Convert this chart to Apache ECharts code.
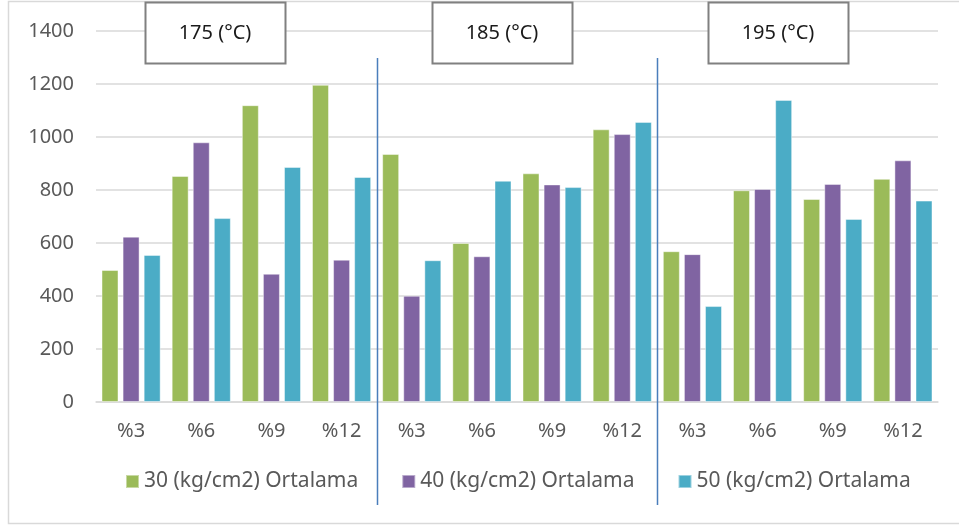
<!DOCTYPE html>
<html>
<head>
<meta charset="utf-8">
<script src="https://cdn.jsdelivr.net/npm/echarts@6/dist/echarts.min.js"></script>
<style>html,body{margin:0;padding:0;background:#fff;}#c{width:959px;height:526px;}</style>
</head>
<body>
<div id="c"></div>
<script>
const temps = ['175', '185', '195'];
const tickLabels = ['%3', '%6', '%9', '%12'];
const seriesNames = ['30 (kg/cm2) Ortalama', '40 (kg/cm2) Ortalama', '50 (kg/cm2) Ortalama'];
const s30 = [498, 853, 1120, 1197, 936, 600, 863, 1029, 569, 799, 766, 842];
const s40 = [624, 980, 484, 537, 401, 550, 821, 1011, 558, 804, 823, 912];
const s50 = [555, 694, 887, 849, 535, 835, 811, 1057, 362, 1140, 691, 760];
const yTicks = [0, 200, 400, 600, 800, 1000, 1200, 1400];

const categories = [];
temps.forEach(t => tickLabels.forEach(c => categories.push(t + '|' + c)));
const colors = ['#9BBB59', '#8064A2', '#4BACC6'];
const font = '"Noto Sans", sans-serif';

const chart = echarts.init(document.getElementById('c'));
const mk = (name, data, i) => ({
  name, type: 'bar', data, barWidth: 17, barGap: '24%',
  itemStyle: { color: colors[i], borderColor: 'rgba(255,255,255,0.45)', borderWidth: 1 }
});
chart.setOption({
  animation: false,
  color: colors,
  grid: { left: 96, right: 21, top: 31, bottom: 124, containLabel: false },
  xAxis: {
    type: 'category', data: categories,
    axisLine: { lineStyle: { color: '#D9D9D9', width: 1.5 } },
    axisTick: { show: false },
    axisLabel: { formatter: v => v.split('|')[1], color: '#595959', fontSize: 20, fontFamily: font, margin: 19, interval: 0 }
  },
  yAxis: {
    type: 'value', min: yTicks[0], max: yTicks[yTicks.length - 1], interval: 200,
    axisLine: { show: false }, axisTick: { show: false },
    splitLine: { lineStyle: { color: '#D9D9D9', width: 1.5 } },
    axisLabel: { formatter: v => String(v), color: '#595959', fontSize: 20, fontFamily: font, margin: 22 }
  },
  legend: {
    left: 120, top: 466, icon: 'rect', itemWidth: 13, itemHeight: 13, itemGap: 43,
    textStyle: { color: '#595959', fontSize: 21, fontFamily: font },
    data: seriesNames
  },
  series: [mk(seriesNames[0], s30, 0), mk(seriesNames[1], s40, 1), mk(seriesNames[2], s50, 2)]
});

// decorations: frame, separators, group labels
const g = [];
g.push({ type: 'rect', shape: { x: 8.5, y: 1.5, width: 960, height: 522 }, style: { fill: 'none', stroke: '#D9D9D9', lineWidth: 1.5 }, z: -1 });
const catW = (chart.convertToPixel({ xAxisIndex: 0 }, categories[1]) - chart.convertToPixel({ xAxisIndex: 0 }, categories[0]));
for (let k = 1; k < temps.length; k++) {
  const x = Math.round(chart.convertToPixel({ xAxisIndex: 0 }, categories[k * 4]) - catW / 2) + 0.5;
  g.push({ type: 'line', shape: { x1: x, y1: 58, x2: x, y2: 505 }, style: { stroke: '#4A7EBB', lineWidth: 1.5 }, z: 10 });
}
const boxOffsets = [49, 55, 51];
temps.forEach((t, k) => {
  const x0 = chart.convertToPixel({ xAxisIndex: 0 }, categories[k * 4]) - catW / 2;
  const bx = Math.round(x0 + boxOffsets[k]);
  g.push({ type: 'rect', shape: { x: bx + 0.5, y: 2.5, width: 140, height: 61 }, style: { fill: '#fff', stroke: '#808080', lineWidth: 2 }, z: 20 });
  g.push({ type: 'text', x: bx + 70, y: 33, style: { text: t + ' (°C)', fill: '#1a1a1a', fontSize: 20, fontFamily: font, align: 'center', verticalAlign: 'middle' }, z: 21 });
});
chart.setOption({ graphic: g });
</script>
</body>
</html>
